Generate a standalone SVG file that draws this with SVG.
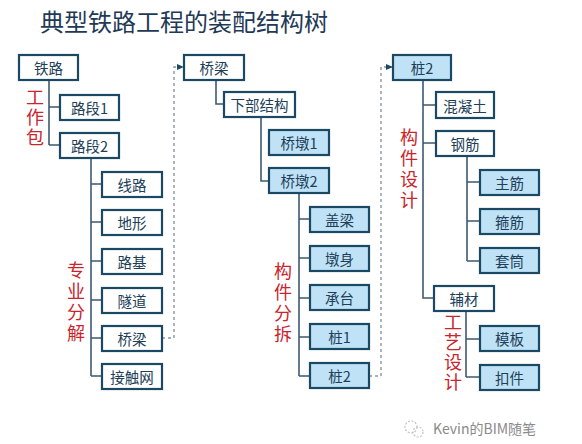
<svg xmlns="http://www.w3.org/2000/svg" width="582" height="444" viewBox="0 0 582 444">
<defs>
<style>
.bx rect{stroke:#1b4862;stroke-width:2.2;fill:#ffffff}
.bx.b rect{fill:#bfe2f6}
.bx text{font-family:"Noto Sans CJK SC","Noto Sans",sans-serif;font-size:14.5px;fill:#203e57;text-anchor:middle;dominant-baseline:central}
.ln{stroke:#3d5a70;stroke-width:1.6;fill:none}
.ds{stroke:#8a96a2;stroke-width:1.4;fill:none;stroke-dasharray:3,3}
.rd{font-family:"Noto Sans CJK SC",sans-serif;font-size:18px;fill:#c8252c;writing-mode:vertical-rl;text-anchor:start}
</style>
<marker id="ar" viewBox="0 0 8 8" refX="7" refY="4" markerWidth="7" markerHeight="7" markerUnits="userSpaceOnUse" orient="auto">
<path d="M0,0.5 L8,4 L0,7.5 z" fill="#1b4862"/>
</marker>
</defs>
<rect width="582" height="444" fill="#ffffff"/>
<text x="40" y="31" font-family="'Noto Sans CJK SC',sans-serif" font-size="24" fill="#1f3a56">典型铁路工程的装配结构树</text>

<g id="connectors">
<path class="ln" d="M49,80 V145 M49,107 H60 M49,145 H60"/>
<path class="ln" d="M91,158 V376 M91,184 H102 M91,222 H102 M91,261 H102 M91,300 H102 M91,338 H102 M91,376 H102"/>
<path class="ln" d="M216,80 V104 H224"/>
<path class="ln" d="M261,117 V181 H269"/>
<path class="ln" d="M299,193 V376 M299,219 H310 M299,258 H310 M299,298 H310 M299,337 H310 M299,376 H310"/>
<path class="ln" d="M423,80 V298 H434 M423,105 H436 M423,143 H436"/>
<path class="ln" d="M467,156 V261 M467,182 H480 M467,221 H480 M467,261 H480"/>
<path class="ln" d="M466,311 V377 M466,339 H480 M466,377 H480"/>
<path class="ds" d="M162,338 H174 V67 H183" marker-end="url(#ar)"/>
<path class="ds" d="M369,376 H381 V67 H392" marker-end="url(#ar)"/>
</g>

<g id="n-tielu" class="bx"><rect x="19" y="55" width="59" height="25"/><text x="48.5" y="67.5">铁路</text></g>
<g id="n-luduan1" class="bx"><rect x="60" y="95" width="59" height="25"/><text x="89.5" y="107.5">路段1</text></g>
<g id="n-luduan2" class="bx"><rect x="60" y="133" width="59" height="25"/><text x="89.5" y="145.5">路段2</text></g>

<g id="n-xianlu" class="bx"><rect x="102" y="172" width="60" height="25"/><text x="132" y="184.5">线路</text></g>
<g id="n-dixing" class="bx"><rect x="102" y="210" width="60" height="25"/><text x="132" y="222.5">地形</text></g>
<g id="n-luji" class="bx"><rect x="102" y="249" width="60" height="25"/><text x="132" y="261.5">路基</text></g>
<g id="n-suidao" class="bx"><rect x="102" y="288" width="60" height="25"/><text x="132" y="300.5">隧道</text></g>
<g id="n-qiaoliang" class="bx"><rect x="102" y="326" width="60" height="25"/><text x="132" y="338.5">桥梁</text></g>
<g id="n-jiechuwang" class="bx"><rect x="102" y="364" width="60" height="25"/><text x="132" y="376.5">接触网</text></g>

<g id="n-qiaoliang2" class="bx"><rect x="184" y="55" width="60" height="25"/><text x="214" y="67.5">桥梁</text></g>
<g id="n-xiabu" class="bx"><rect x="224" y="92" width="71" height="25"/><text x="259.5" y="104.5">下部结构</text></g>
<g id="n-qiaodun1" class="bx b"><rect x="269" y="130" width="60" height="25"/><text x="299" y="142.5">桥墩1</text></g>
<g id="n-qiaodun2" class="bx b"><rect x="269" y="168" width="60" height="25"/><text x="299" y="180.5">桥墩2</text></g>
<g id="n-gailiang" class="bx b"><rect x="310" y="207" width="59" height="25"/><text x="339.5" y="219.5">盖梁</text></g>
<g id="n-dunshen" class="bx b"><rect x="310" y="246" width="59" height="25"/><text x="339.5" y="258.5">墩身</text></g>
<g id="n-chengtai" class="bx b"><rect x="310" y="285" width="59" height="25"/><text x="339.5" y="297.5">承台</text></g>
<g id="n-zhuang1" class="bx b"><rect x="310" y="324" width="59" height="25"/><text x="339.5" y="336.5">桩1</text></g>
<g id="n-zhuang2" class="bx b"><rect x="310" y="363" width="59" height="25"/><text x="339.5" y="375.5">桩2</text></g>

<g id="n-zhuang2b" class="bx b"><rect x="393" y="55" width="58" height="25"/><text x="422" y="67.5">桩2</text></g>
<g id="n-hunningtu" class="bx"><rect x="436" y="92" width="58" height="26"/><text x="465" y="105">混凝土</text></g>
<g id="n-gangjin" class="bx"><rect x="436" y="131" width="58" height="25"/><text x="465" y="143.5">钢筋</text></g>
<g id="n-zhujin" class="bx b"><rect x="480" y="170" width="59" height="25"/><text x="509.5" y="182.5">主筋</text></g>
<g id="n-gujin" class="bx b"><rect x="480" y="209" width="59" height="25"/><text x="509.5" y="221.5">箍筋</text></g>
<g id="n-taotong" class="bx b"><rect x="480" y="248" width="59" height="25"/><text x="509.5" y="260.5">套筒</text></g>
<g id="n-fucai" class="bx"><rect x="434" y="286" width="60" height="25"/><text x="464" y="298.5">辅材</text></g>
<g id="n-muban" class="bx b"><rect x="480" y="326" width="59" height="25"/><text x="509.5" y="338.5">模板</text></g>
<g id="n-koujian" class="bx b"><rect x="480" y="365" width="59" height="25"/><text x="509.5" y="377.5">扣件</text></g>

<g id="labels">
<text class="rd" x="35" y="88" letter-spacing="2">工作包</text>
<text class="rd" x="76" y="261" letter-spacing="3">专业分解</text>
<text class="rd" x="283" y="262" letter-spacing="3">构件分拆</text>
<text class="rd" x="409" y="128" letter-spacing="3">构件设计</text>
<text class="rd" x="453" y="313" letter-spacing="2">工艺设计</text>
</g>

<g id="watermark">
<circle cx="411" cy="427" r="6" fill="none" stroke="#c4c4c4" stroke-width="1.2" stroke-dasharray="2,1.5"/>
<circle cx="418" cy="432" r="5" fill="none" stroke="#c4c4c4" stroke-width="1.2" stroke-dasharray="2,1.5"/>
<text x="433" y="434" font-family="'Noto Sans CJK SC',sans-serif" font-size="14" fill="#8a8a8a">Kevin的BIM随笔</text>
</g>
</svg>
